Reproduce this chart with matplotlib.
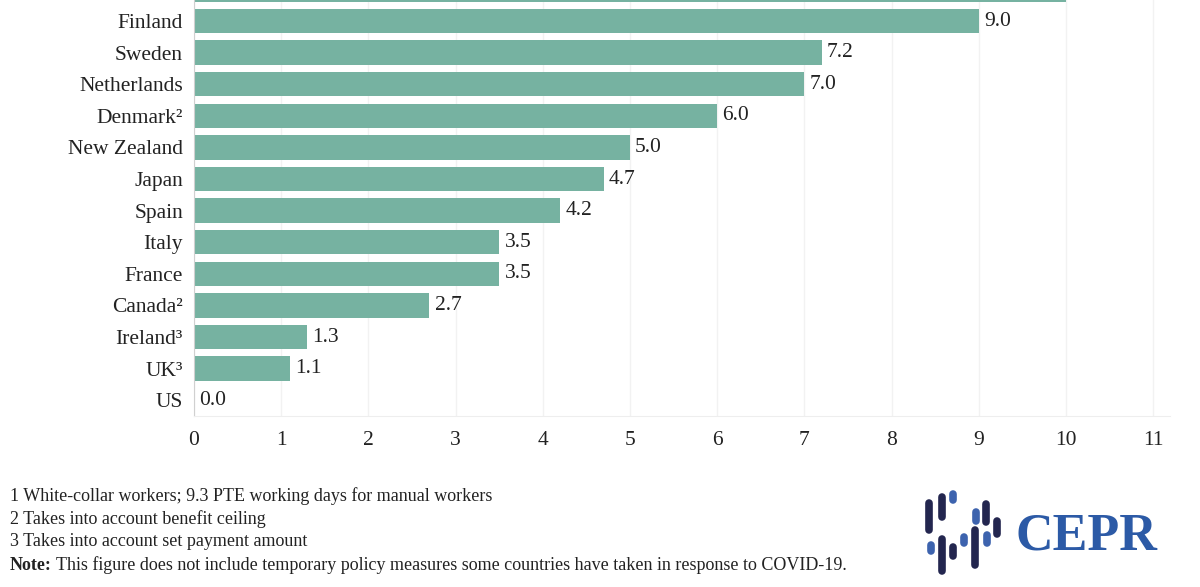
import matplotlib
matplotlib.use("Agg")
import matplotlib.pyplot as plt
from matplotlib.lines import Line2D

# data (the first bar is cropped off at the top of the source image,
# its label and value text are not visible)
countries = ["", "Finland", "Sweden", "Netherlands", "Denmark²", "New Zealand",
             "Japan", "Spain", "Italy", "France", "Canada²", "Ireland³", "UK³", "US"]
values = [10.0, 9.0, 7.2, 7.0, 6.0, 5.0, 4.7, 4.2, 3.5, 3.5, 2.7, 1.3, 1.1, 0.0]
show_value = [False] + [True] * 13
xticks = list(range(0, 12))

footnotes = [
    "1 White-collar workers; 9.3 PTE working days for manual workers",
    "2 Takes into account benefit ceiling",
    "3 Takes into account set payment amount",
]
note_text = "This figure does not include temporary policy measures some countries have taken in response to COVID-19."

BAR = "#76b2a1"
TXT = "#222222"
SERIF = "Liberation Serif"

W, H = 1200, 587
fig = plt.figure(figsize=(W / 100, H / 100), dpi=100)

# axes placed so the first bar is mostly above the figure edge
ax_bottom_px, ax_top_px = 416, -26.4
left_px, right_px = 194, 1170.5
ax = fig.add_axes([left_px / W, (H - ax_bottom_px) / H,
                   (right_px - left_px) / W, (ax_bottom_px - ax_top_px) / H])

ypos = list(range(len(countries)))
ax.barh(ypos, values, height=0.77, color=BAR, zorder=2)
ax.set_ylim(len(countries) - 0.5, -0.5)
ax.set_xlim(0, 11.2)

for y, v, show in zip(ypos, values, show_value):
    if show:
        ax.text(v + 0.06, y, f"{v:.1f}", va="center", ha="left",
                fontsize=15.5, family=SERIF, color=TXT)

ax.set_yticks(ypos)
ax.set_yticklabels(countries, fontsize=15.5, family=SERIF, color=TXT)
ax.set_xticks(xticks)
ax.set_xticklabels([str(t) for t in xticks], fontsize=15.5, family=SERIF, color=TXT)
ax.tick_params(axis="y", length=0, pad=8)
ax.tick_params(axis="x", length=0, pad=11)

ax.grid(True, axis="x", color="#f2f2f2", linewidth=1, zorder=0)
for s in ["top", "right"]:
    ax.spines[s].set_visible(False)
ax.spines["left"].set_color("#d0d0d0")
ax.spines["bottom"].set_color("#eeeeee")

# footnotes
y0 = 496
for i, line in enumerate(footnotes):
    fig.text(10 / W, 1 - (y0 + i * 23) / H, line, fontsize=13, family=SERIF,
             color=TXT, va="center", ha="left")
yn = 1 - (y0 + 3 * 23) / H
t = fig.text(10 / W, yn, "Note:", fontsize=13, family=SERIF, weight="bold",
             color=TXT, va="center", ha="left")
fig.canvas.draw()
bb = t.get_window_extent()
fig.text((bb.x1 + 4) / W, yn, note_text, fontsize=13, family=SERIF,
         color=TXT, va="center", ha="left")

# CEPR logo
lx = fig.add_axes([0, 0, 1, 1], zorder=5)
lx.set_xlim(0, W)
lx.set_ylim(H, 0)
lx.axis("off")
dark, light = "#23264f", "#3d63ae"
segs = [
    (919, 519, 519, light), (929, 503, 530, dark), (942, 497, 517, dark),
    (953, 494, 500, light), (964, 493, 493, light), (976, 512, 521, light),
    (986, 504, 522, dark), (997, 521, 534, dark), (931, 545, 551, light),
    (942, 539, 571, dark), (953, 547, 556, dark), (964, 537, 543, light),
    (975, 530, 565, dark), (987, 535, 543, light),
]
for x, ya, yb, c in segs:
    lx.add_line(Line2D([x, x], [ya, yb], color=c, linewidth=5.5,
                       solid_capstyle="round"))
lx.text(1016, 536, "CEPR", fontsize=37.5, family=SERIF, weight="bold",
        color="#2c5aa6", va="center", ha="left")

fig.savefig("out.png", dpi=100)
